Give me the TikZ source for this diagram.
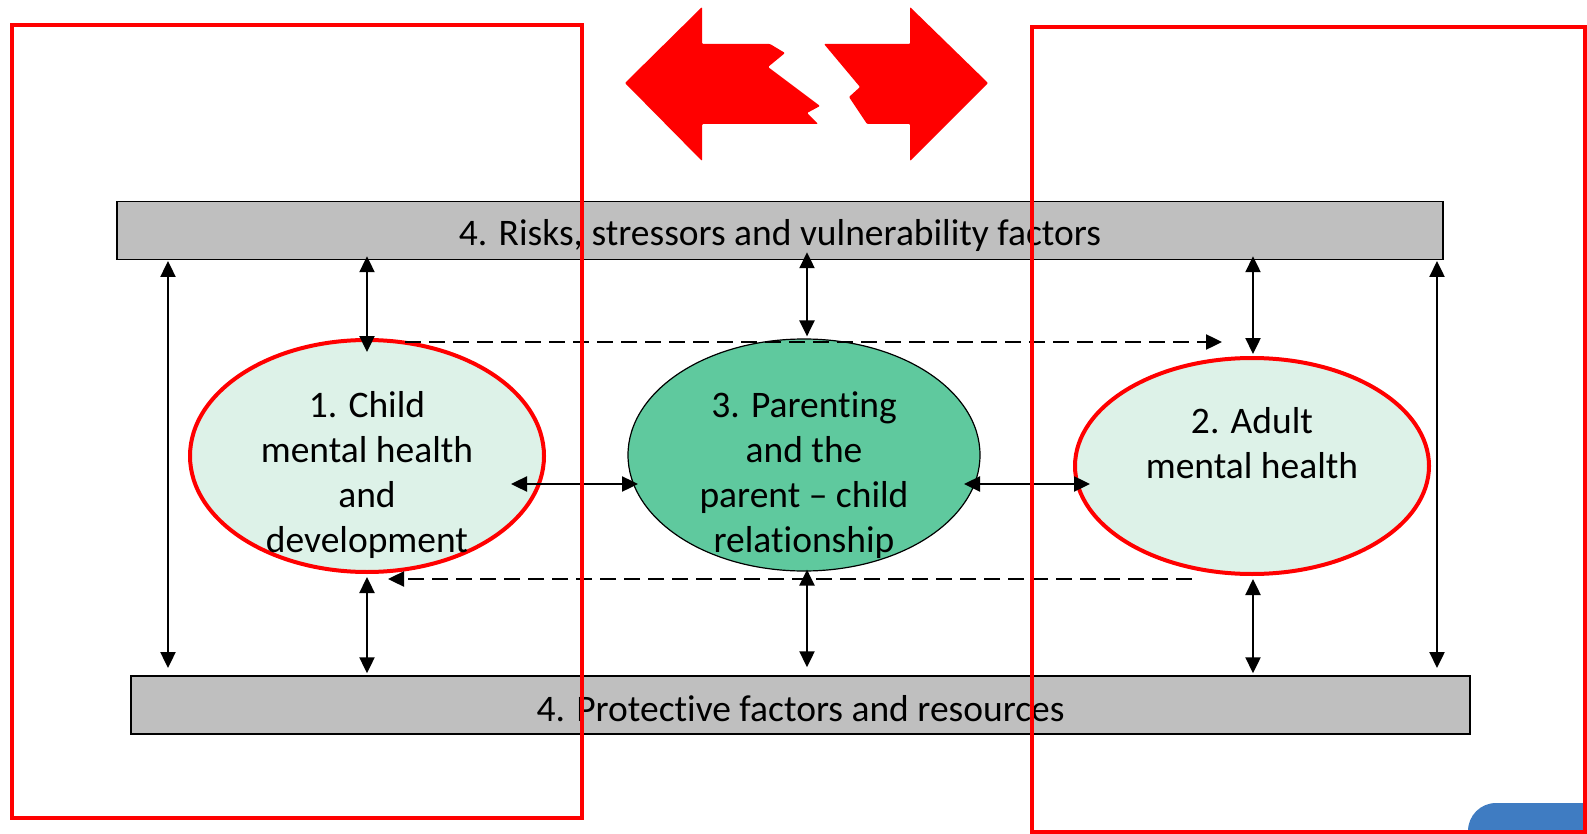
\documentclass[tikz,border=0pt]{standalone}
\usepackage{fontspec}
\setmainfont[Ligatures=NoCommon]{Carlito}
\usetikzlibrary{arrows.meta,calc,shapes.geometric}
\definecolor{redbox}{HTML}{FF0000}
\definecolor{greybar}{HTML}{BFBFBF}
\definecolor{lightgreen}{HTML}{DDF2E8}
\definecolor{midgreen}{HTML}{5FC99E}
\definecolor{blueshape}{HTML}{3F7CC2}
\begin{document}
\begin{tikzpicture}[x=1pt,y=-1pt,
  txt/.style={font=\fontsize{37.5}{45}\selectfont, align=center, inner sep=0pt},
  bar/.style={draw=black, line width=1.5pt, fill=greybar, minimum height=58pt, inner sep=0pt},
  oval/.style={ellipse, inner sep=0pt},
  conn/.style={line width=2.4pt, {Triangle[length=16pt,width=15pt]}-{Triangle[length=16pt,width=15pt]}},
  dconn/.style={line width=2.4pt, dash pattern=on 16pt off 8pt, -{Triangle[length=16pt,width=15pt]}},
  frame/.style={draw=redbox, line width=4.5pt}
]
\useasboundingbox (0,0) rectangle (1587,834);
\clip (0,0) rectangle (1587,834);

% blue shape bottom right
\fill[blueshape, rounded corners=28pt] (1468,803) rectangle (1640,880);

% red broken arrows
\fill[redbox, rounded corners=1pt] (625,83) -- (702,7) -- (702,44) -- (770,44) -- (785,53) -- (768,67) -- (820,106) -- (807,113) -- (818,124) -- (702,124) -- (702,161) -- cycle;
\fill[redbox, rounded corners=1pt] (988,83) -- (910,7) -- (910,44) -- (824,44) -- (860,87) -- (849,97) -- (867,124) -- (910,124) -- (910,161) -- cycle;

% bars
\node[bar, minimum width=1326pt] (risk) at (780,230.5) {};
\node[txt] (risktxt) at (780,236) {4. Risks, stressors and vulnerability factors};
\node[bar, minimum width=1339pt] (prot) at (800.5,705) {};
\node[txt] (prottxt) at (800.5,709) {4. Protective factors and resources};

% ellipses
\node[oval, draw=redbox, line width=4pt, fill=lightgreen, minimum width=354pt, minimum height=232pt] (child) at (367,456) {};
\node[oval, draw=black, line width=1.2pt, fill=midgreen, minimum width=352pt, minimum height=232pt] (parent) at (804,455) {};
\node[oval, draw=redbox, line width=4pt, fill=lightgreen, minimum width=354pt, minimum height=216pt] (adult) at (1252,466) {};

\node[txt] (childtxt) at (367,475) {1. Child\\mental health\\and\\development};
\node[txt] (parenttxt) at (804,475) {3. Parenting\\and the\\parent -- child\\relationship};
\node[txt] (adulttxt) at (1252,443) {2. Adult\\mental health};

% long vertical arrows
\draw[conn] (168,261) coordinate (la1) -- (168,668) coordinate (la2);
\draw[conn] (1437,261) coordinate (ra1) -- (1437,668) coordinate (ra2);

% child arrows
\draw[conn] ($(child.north |- risk.south)+(0,-4)$) -- ($(child.north)+(0,14)$);
\draw[conn] ($(child.south)+(0,3)$) -- ($(child.south |- prot.north)+(0,-2)$);
% parent arrows
\draw[conn] ($(parent.north |- risk.south)+(3,-8)$) -- ($(parent.north)+(3,-2)$);
\draw[conn] ($(parent.south)+(3,-2)$) -- ($(parent.south |- prot.north)+(3,-8)$);
% adult arrows
\draw[conn] ($(adult.north |- risk.south)+(1,-4)$) -- ($(adult.north)+(1,-2)$);
\draw[conn] ($(adult.south)+(1,3)$) -- ($(adult.south |- prot.north)+(1,-2)$);

% horizontal arrows
\draw[conn] (511,484) coordinate (h1) -- (638,484) coordinate (h2);
\draw[conn] (964,484) coordinate (h3) -- (1090,484) coordinate (h4);

% dashed arrows
\draw[dconn] (405,342) coordinate (d1) -- (1222,342) coordinate (d2);
\draw[dconn] (1192,579) coordinate (d3) -- (388,579) coordinate (d4);

% red frames
\draw[frame] (12,25) rectangle (582,818);
\draw[frame] (1032,27) rectangle (1585,832);
\end{tikzpicture}
\end{document}
